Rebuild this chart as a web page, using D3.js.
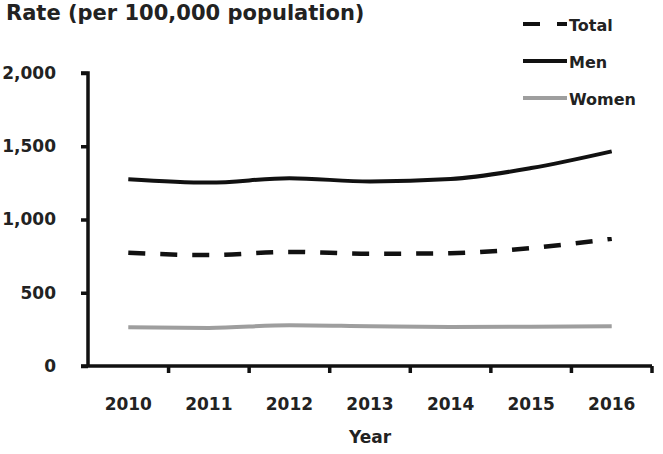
<!DOCTYPE html>
<html>
<head>
<meta charset="utf-8">
<script src="https://d3js.org/d3.v7.min.js"></script>
<style>
  body { margin: 0; background: #fff; }
  text { font-family: "DejaVu Sans", sans-serif; font-weight: bold; fill: #222; }
</style>
</head>
<body>
<div id="chart"></div>
<script>
// data
const years = [2010, 2011, 2012, 2013, 2014, 2015, 2016];
const total = [773, 757, 779, 766, 770, 805, 869];
const men   = [1275, 1252, 1282, 1259, 1276, 1351, 1465];
const women = [265, 260, 278, 272, 267, 268, 272];
const yTicks = [0, 500, 1000, 1500, 2000];

const series = [
  { name: "Total", values: total, color: "#111", dash: "17,15", width: 4.5 },
  { name: "Men", values: men, color: "#111", dash: null, width: 4 },
  { name: "Women", values: women, color: "#9e9e9e", dash: null, width: 4 }
];

const width = 663, height = 454;
const plotLeft = 88, plotRight = 652, plotTop = 73, plotBottom = 366;

const svg = d3.select("#chart").append("svg")
  .attr("width", width)
  .attr("height", height);

const x = d3.scaleBand().domain(years).range([plotLeft, plotRight]);
const y = d3.scaleLinear().domain([0, 2000]).range([plotBottom, plotTop]);

// title
svg.append("text")
  .attr("x", 6).attr("y", 20)
  .attr("font-size", 21)
  .text("Rate (per 100,000 population)");

// y axis
const yAxis = svg.append("g")
  .attr("transform", `translate(${plotLeft},0)`)
  .call(d3.axisLeft(y).tickValues(yTicks).tickFormat(d3.format(",")).tickSize(7).tickPadding(25));
yAxis.select(".domain").attr("d", `M-7,${plotTop}H0V${plotBottom}`);

// x axis
const xAxis = svg.append("g")
  .attr("transform", `translate(0,${plotBottom})`)
  .call(d3.axisBottom(x).tickSize(0).tickPadding(32));
xAxis.select(".domain").attr("d", `M${plotLeft - 7},0H${plotRight}`);
xAxis.selectAll(".bound")
  .data(years.map(d => x(d) + x.bandwidth()))
  .enter().append("line")
  .attr("x1", d => d).attr("x2", d => d)
  .attr("y1", 0).attr("y2", 7)
  .attr("stroke", "#111").attr("stroke-width", 3.5);

svg.selectAll(".domain, .tick line")
  .attr("stroke", "#111").attr("stroke-width", 3.5);
svg.selectAll(".tick text")
  .attr("font-size", 17).attr("font-family", "DejaVu Sans")
  .attr("font-weight", "bold").attr("fill", "#222");

// axis title
svg.append("text")
  .attr("x", (plotLeft + plotRight) / 2).attr("y", 443)
  .attr("text-anchor", "middle")
  .attr("font-size", 17)
  .text("Year");

// lines
const line = d3.line()
  .x((d, i) => x(years[i]) + x.bandwidth() / 2)
  .y(d => y(d))
  .curve(d3.curveMonotoneX);

series.forEach(s => {
  svg.append("path")
    .attr("d", line(s.values))
    .attr("fill", "none")
    .attr("stroke", s.color)
    .attr("stroke-width", s.width)
    .attr("stroke-dasharray", s.dash);
});

// legend
const legend = svg.append("g").attr("transform", "translate(523,24)");
series.forEach((s, i) => {
  const g = legend.append("g").attr("transform", `translate(0,${i * 37})`);
  g.append("line")
    .attr("x1", 0).attr("x2", 44)
    .attr("stroke", s.color)
    .attr("stroke-width", 4)
    .attr("stroke-dasharray", s.dash ? "17,17" : null);
  g.append("text")
    .attr("x", 46).attr("y", 7)
    .attr("font-size", 16)
    .text(s.name);
});
</script>
</body>
</html>
